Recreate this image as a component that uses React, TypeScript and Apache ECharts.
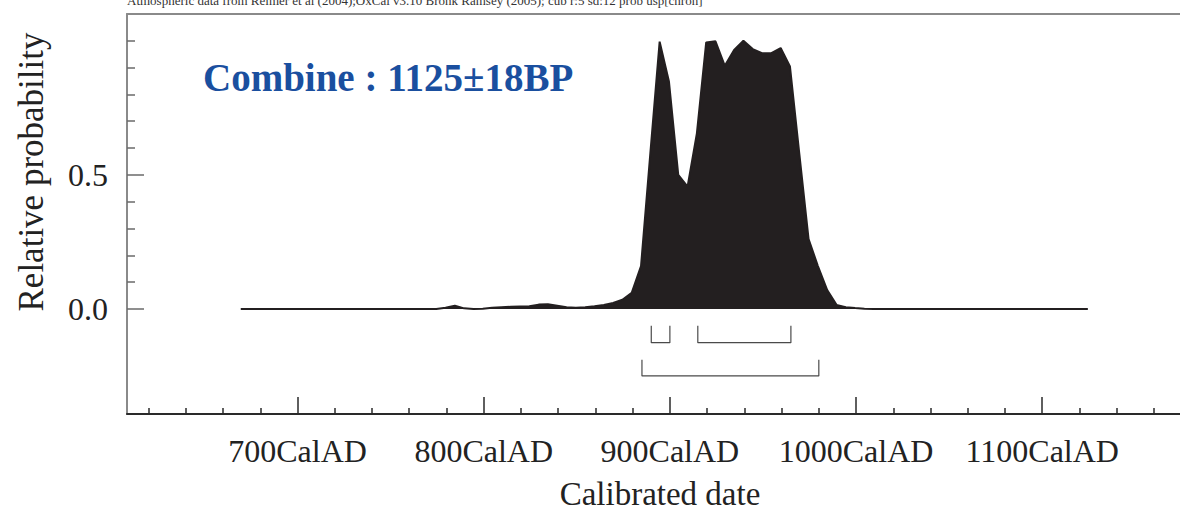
import React, { useEffect, useRef } from "react";
import * as echarts from "echarts";

// Calibrated years (AD) and relative probability of the combined date
const years = [
  669.5, 774.5, 779.5, 784.5, 789.5, 794.5, 799.5, 804.5, 809.5, 814.5, 819.5, 824.5,
  829.5, 834.5, 839.5, 844.5, 849.5, 854.5, 859.5, 864.5, 869.5, 874.5, 879.5, 884.5,
  889.5, 894.5, 899.5, 904.5, 909.5, 914.5, 919.5, 924.5, 929.5, 934.5, 939.5, 944.5,
  949.5, 954.5, 959.5, 964.5, 969.5, 974.5, 979.5, 984.5, 989.5, 994.5, 999.5, 1004.5,
  1009.5, 1124.5,
];
const probs = [
  0, 0, 0.004, 0.012, 0.002, 0.0, 0.001, 0.004, 0.006, 0.008, 0.009, 0.01,
  0.016, 0.017, 0.012, 0.006, 0.004, 0.006, 0.01, 0.015, 0.022, 0.034, 0.06, 0.16,
  0.58, 0.997, 0.848, 0.5, 0.456, 0.655, 0.994, 0.998, 0.907, 0.966, 1.0, 0.969,
  0.954, 0.954, 0.973, 0.904, 0.58, 0.26, 0.16, 0.07, 0.015, 0.006, 0.003, 0.001,
  0, 0,
];

// Highest probability ranges (68.2% and 95.4%)
const range68 = [
  [890, 900],
  [915, 965],
];
const range95 = [[885, 980]];
const level68 = [-0.063, -0.126];
const level95 = [-0.19, -0.25];

const majorXTicks = [700, 800, 900, 1000, 1100];
const minorXTicks = [
  620, 640, 660, 680, 720, 740, 760, 780, 820, 840, 860, 880, 920, 940, 960, 980,
  1020, 1040, 1060, 1080, 1120, 1140, 1160,
];
const majorYTicks = [0, 0.5];
const minorYTicks = [0.1, 0.2, 0.3, 0.4, 0.6, 0.7, 0.8, 0.9, 1.0];

const titleText = "Combine : 1125±18BP";
const noteText =
  "Atmospheric data from Reimer et al (2004);OxCal v3.10 Bronk Ramsey (2005); cub r:5 sd:12 prob usp[chron]";

const SERIF = "'Liberation Serif', 'DejaVu Serif', serif";

export default function App() {
  const ref = useRef<HTMLDivElement>(null);
  useEffect(() => {
    if (!ref.current) return;
    const chart = echarts.init(ref.current, null, { renderer: "svg" });
    const xMin = 608.4;
    const xMax = 1174;
    const yMin = -0.392;
    const yMax = 1.1;

    const bracketSeries = (ranges: number[][], level: number[]) =>
      ranges.map((r) => ({
        type: "line",
        xAxisIndex: 0,
        yAxisIndex: 0,
        data: [
          [r[0], level[0]],
          [r[0], level[1]],
          [r[1], level[1]],
          [r[1], level[0]],
        ],
        showSymbol: false,
        symbol: "none",
        lineStyle: { color: "#4a4a4a", width: 1.2 },
        silent: true,
        z: 3,
      }));

    const baseX = {
      type: "value",
      min: xMin,
      max: xMax,
      splitLine: { show: false },
    };
    const baseY = {
      type: "value",
      min: yMin,
      max: yMax,
      splitLine: { show: false },
    };

    chart.setOption({
      animation: false,
      grid: { left: 127, top: 14, right: 0, bottom: 97, containLabel: false },
      xAxis: [
        {
          ...baseX,
          position: "bottom",
          axisLine: { show: true, onZero: false, lineStyle: { color: "#2a2a2a", width: 2 } },
          axisTick: {
            show: true,
            inside: true,
            length: 17,
            customValues: majorXTicks,
            lineStyle: { color: "#2a2a2a", width: 1.5 },
          },
          axisLabel: {
            show: true,
            customValues: majorXTicks,
            formatter: (v: number) => `${v}CalAD`,
            fontFamily: SERIF,
            fontSize: 32,
            color: "#222",
            margin: 21,
          },
        },
        {
          ...baseX,
          position: "bottom",
          axisLine: { show: false, onZero: false },
          axisTick: {
            show: true,
            inside: true,
            length: 6,
            customValues: minorXTicks,
            lineStyle: { color: "#2a2a2a", width: 1.5 },
          },
          axisLabel: { show: false },
        },
        {
          ...baseX,
          position: "top",
          axisLine: { show: true, onZero: false, lineStyle: { color: "#8a8a8a", width: 2 } },
          axisTick: { show: false },
          axisLabel: { show: false },
        },
      ],
      yAxis: [
        {
          ...baseY,
          position: "left",
          axisLine: { show: true, onZero: false, lineStyle: { color: "#8a8a8a", width: 2 } },
          axisTick: {
            show: true,
            inside: true,
            length: 17,
            customValues: majorYTicks,
            lineStyle: { color: "#6a6a6a", width: 1.5 },
          },
          axisLabel: {
            show: true,
            customValues: majorYTicks,
            formatter: (v: number) => v.toFixed(1),
            fontFamily: SERIF,
            fontSize: 32,
            color: "#222",
            margin: 19,
          },
        },
        {
          ...baseY,
          position: "left",
          axisLine: { show: false, onZero: false },
          axisTick: {
            show: true,
            inside: true,
            length: 8,
            customValues: minorYTicks,
            lineStyle: { color: "#6a6a6a", width: 1.5 },
          },
          axisLabel: { show: false },
        },
      ],
      graphic: [
        {
          type: "text",
          left: 127,
          top: -6,
          style: { text: noteText, font: `13px ${SERIF}`, fill: "#333" },
          silent: true,
        },
        {
          type: "text",
          x: 203,
          y: 77,
          style: {
            text: titleText,
            font: `bold 39px ${SERIF}`,
            fill: "#1a4f9f",
            verticalAlign: "middle",
            align: "left",
          },
          silent: true,
        },
        {
          type: "text",
          x: 660,
          y: 494,
          style: {
            text: "Calibrated date",
            font: `33px ${SERIF}`,
            fill: "#222",
            align: "center",
            verticalAlign: "middle",
          },
          silent: true,
        },
        {
          type: "text",
          x: 31,
          y: 172,
          rotation: Math.PI / 2,
          style: {
            text: "Relative probability",
            font: `35px ${SERIF}`,
            fill: "#222",
            align: "center",
            verticalAlign: "middle",
          },
          silent: true,
        },
      ],
      series: [
        {
          type: "line",
          xAxisIndex: 0,
          yAxisIndex: 0,
          data: years.map((y, i) => [y, probs[i]]),
          showSymbol: false,
          symbol: "none",
          lineStyle: { color: "#231f20", width: 2 },
          areaStyle: { color: "#231f20", opacity: 1, origin: 0 },
          silent: true,
          z: 2,
        },
        ...bracketSeries(range68, level68),
        ...bracketSeries(range95, level95),
      ],
    });
    return () => chart.dispose();
  }, []);
  return (
    <div
      ref={ref}
      style={{ position: "fixed", left: 0, top: 0, width: 1180, height: 511, background: "#fff" }}
    />
  );
}
